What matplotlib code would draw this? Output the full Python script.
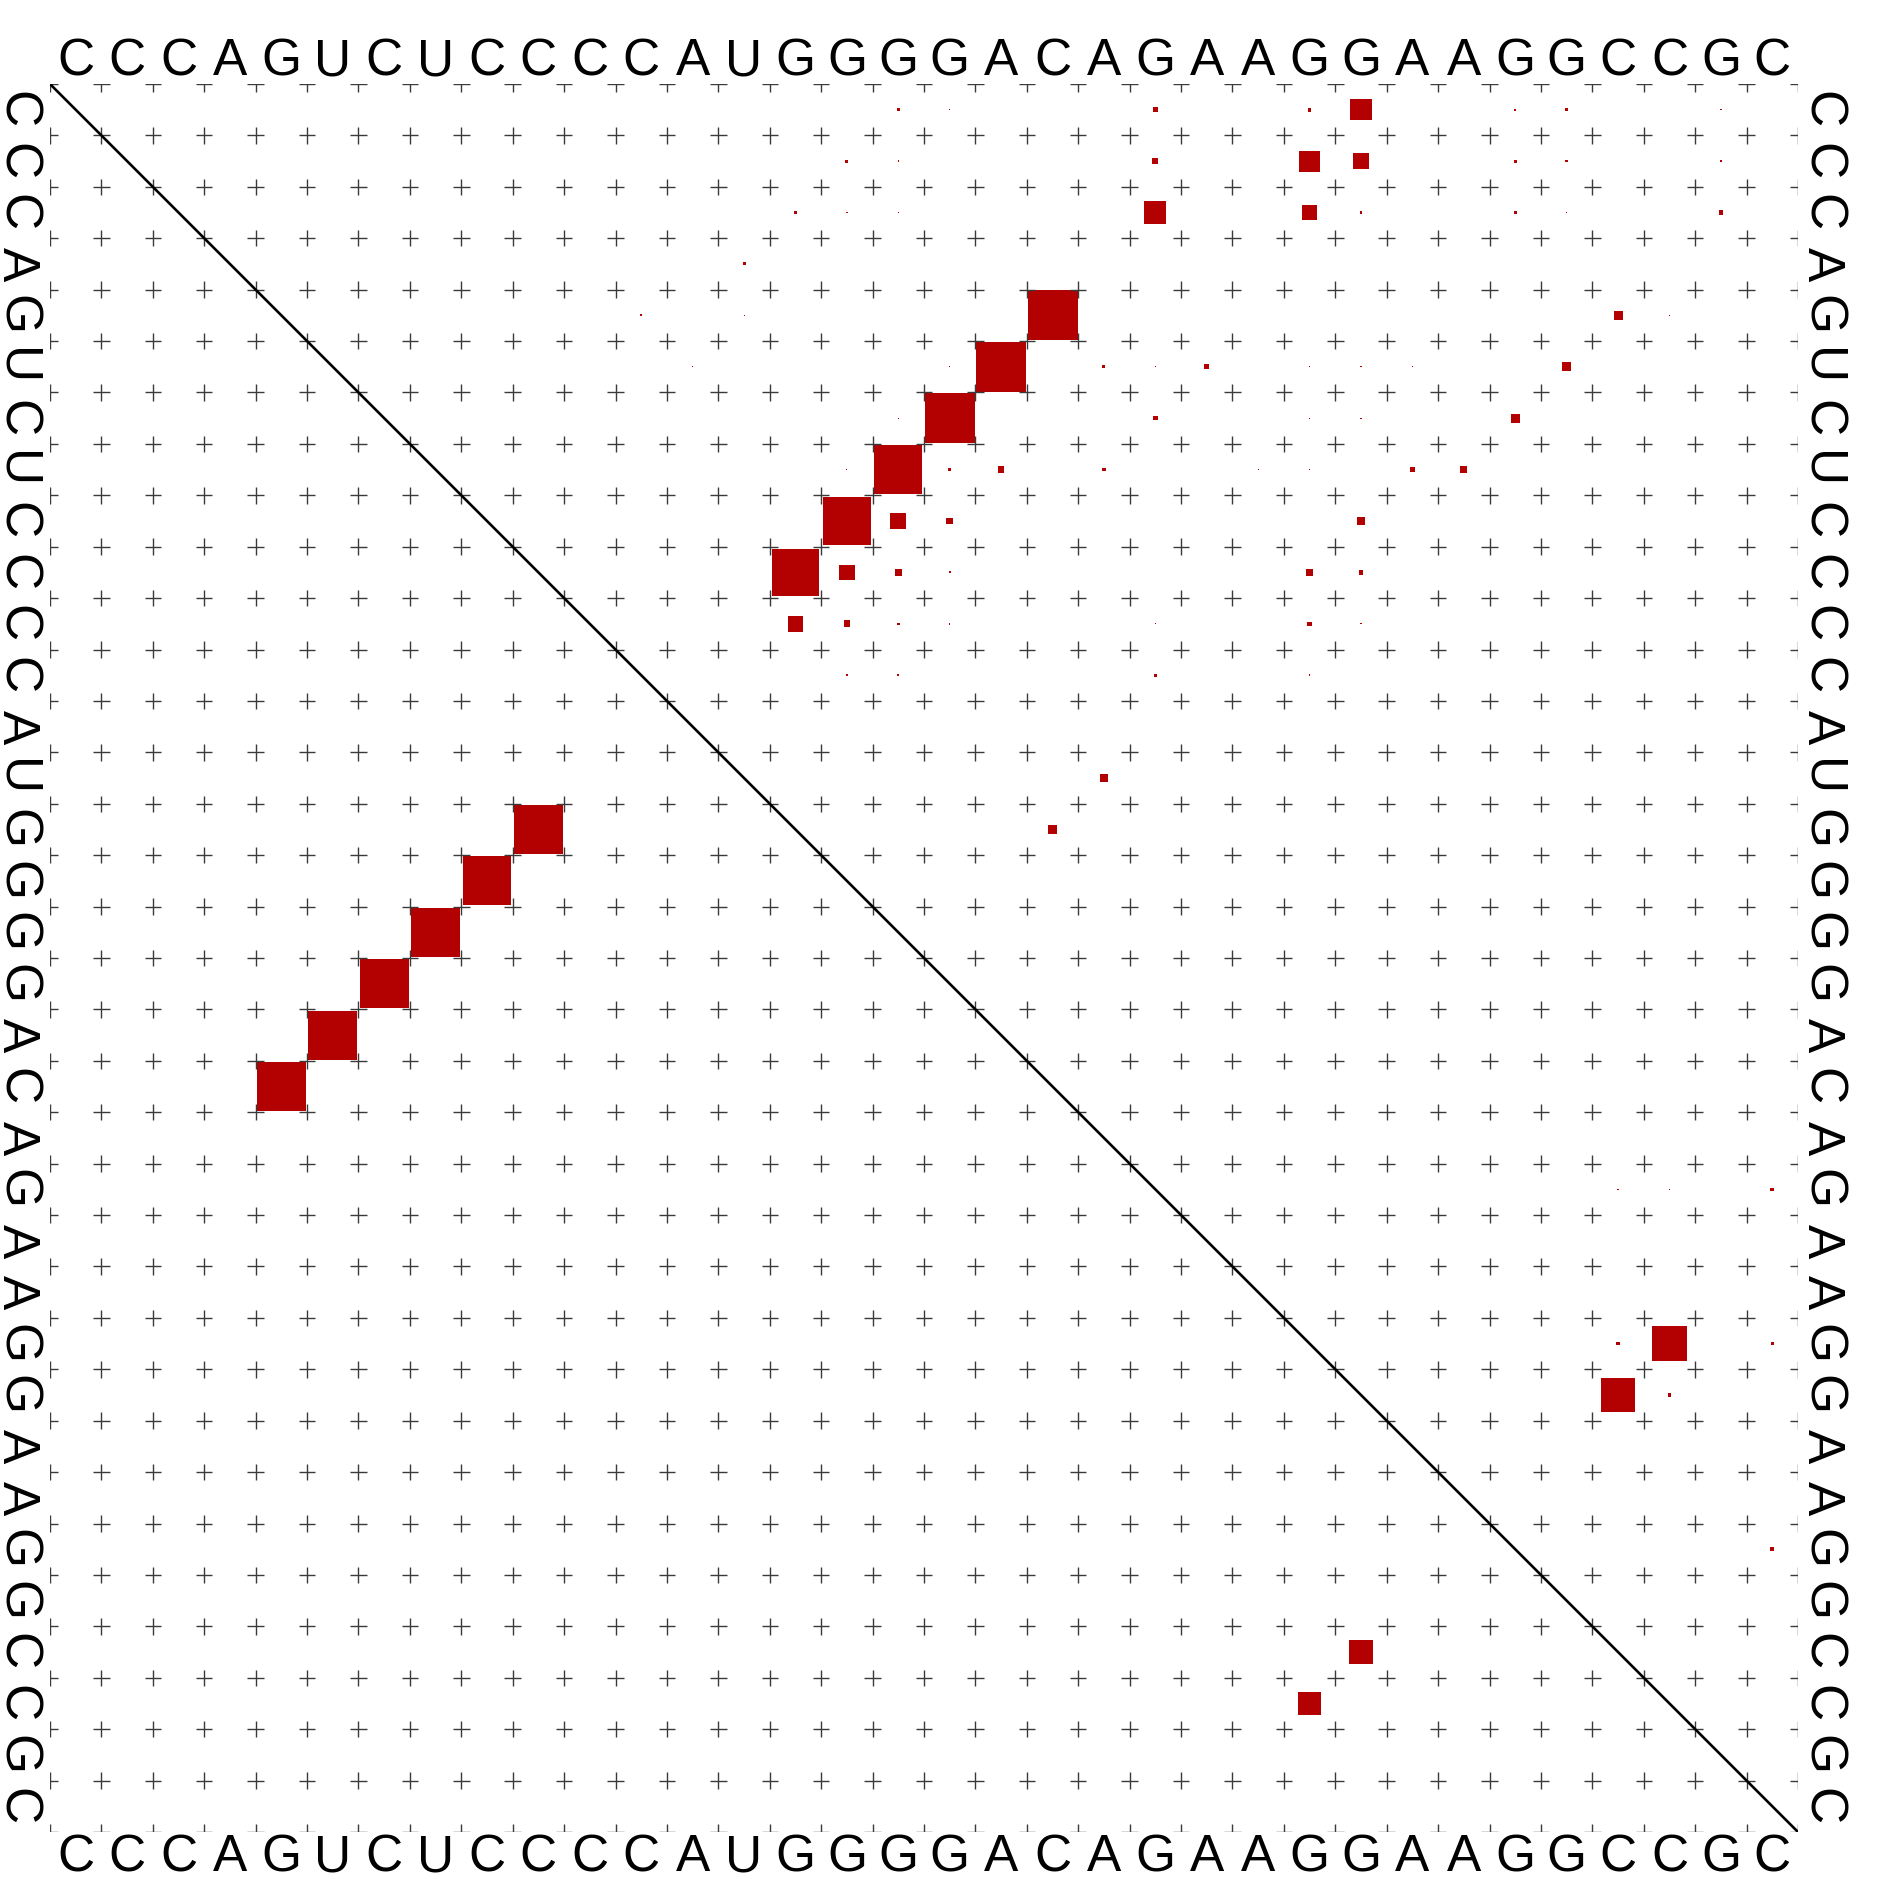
import numpy as np
import matplotlib
matplotlib.use('Agg')
import matplotlib.pyplot as plt
from matplotlib.patches import Rectangle
from matplotlib.collections import LineCollection
import matplotlib.transforms as mtransforms

seq = "CCCAGUCUCCCCAUGGGGACAGAAGGAAGGCCGC"

# upper triangle: pair (i, j) and box side as fraction of a cell (sqrt of prob)
up_i = [1, 1, 1, 1, 1, 1, 1, 1,
        2, 2, 2, 2, 2, 2, 2, 2, 2,
        3, 3, 3, 3, 3, 3, 3, 3, 3,
        4,
        5, 5, 5, 5, 5, 5, 5,
        6, 6, 6, 6, 6, 6, 6, 6, 6, 6, 6, 6, 6, 6,
        7, 7, 7, 7, 7, 7, 7, 7, 7,
        8, 8, 8, 8, 8, 8, 8, 8, 8, 8, 8, 8,
        9, 9, 9, 9, 9, 9, 9, 9,
        10, 10, 10, 10, 10, 10, 10, 10,
        11, 11, 11, 11, 11, 11, 11,
        12, 12, 12, 12, 12,
        14, 14, 14, 14, 14,
        15, 15,
        16,
        22, 22, 22,
        25, 25, 25,
        26, 26, 26,
        29]
up_j = [17, 18, 22, 25, 26, 29, 30, 33,
        16, 17, 18, 22, 25, 26, 29, 30, 33,
        15, 16, 17, 22, 25, 26, 29, 30, 33,
        14,
        11, 12, 14, 20, 31, 32, 34,
        13, 18, 19, 21, 22, 23, 24, 25, 26, 27, 28, 29, 30, 33,
        15, 17, 18, 22, 25, 26, 29, 30, 33,
        16, 17, 18, 19, 21, 23, 24, 25, 26, 27, 28, 29,
        15, 16, 17, 18, 22, 25, 26, 30,
        15, 16, 17, 18, 22, 25, 26, 29,
        15, 16, 17, 18, 22, 25, 26,
        16, 17, 18, 22, 25,
        19, 21, 22, 23, 24,
        20, 34,
        20,
        31, 32, 34,
        31, 32, 34,
        31, 32, 34,
        34]
up_s = [0.065, 0.025, 0.09, 0.07, 0.41, 0.04, 0.06, 0.025,
        0.06, 0.03, 0.01, 0.12, 0.41, 0.305, 0.055, 0.05, 0.03,
        0.06, 0.025, 0.01, 0.43, 0.30, 0.05, 0.065, 0.015, 0.09,
        0.06,
        0.01, 0.04, 0.02, 0.973, 0.175, 0.02, 0.005,
        0.02, 0.02, 0.973, 0.06, 0.025, 0.09, 0.01, 0.02, 0.025, 0.02, 0.01, 0.01, 0.17, 0.01,
        0.005, 0.02, 0.977, 0.09, 0.025, 0.02, 0.175, 0.005, 0.005,
        0.02, 0.94, 0.05, 0.13, 0.065, 0.01, 0.02, 0.02, 0.005, 0.105, 0.14, 0.005,
        0.01, 0.928, 0.305, 0.13, 0.015, 0.015, 0.145, 0.005,
        0.928, 0.305, 0.13, 0.04, 0.005, 0.15, 0.09, 0.005,
        0.31, 0.13, 0.05, 0.03, 0.015, 0.09, 0.025,
        0.045, 0.04, 0.01, 0.05, 0.03,
        0.005, 0.155, 0.01, 0.015, 0.005,
        0.17, 0.005,
        0.005,
        0.025, 0.02, 0.07,
        0.07, 0.68, 0.06,
        0.675, 0.07, 0.015,
        0.07]

# lower triangle pairs
lo_i = [5, 6, 7, 8, 9, 10, 25, 26]
lo_j = [20, 19, 18, 17, 16, 15, 32, 31]
lo_s = [0.95, 0.95, 0.95, 0.95, 0.95, 0.95, 0.45, 0.45]

n = len(seq)
W, H = 1883, 1879
fig = plt.figure(figsize=(W / 100, H / 100), dpi=100)
ax = fig.add_axes([50 / W, (H - 1832) / H, 1748 / W, 1748 / H])
ax.set_xlim(0, n)
ax.set_ylim(n, 0)
ax.axis('off')

red = '#b30000'

# grid crosses
arm = 0.16
segs = []
for a in range(n + 1):
    for b in range(n + 1):
        segs.append([(a - arm, b), (a + arm, b)])
        segs.append([(a, b - arm), (a, b + arm)])
lc = LineCollection(segs, colors='#3a3a3a', linewidths=1.0, clip_on=True)
ax.add_collection(lc)

# diagonal
ax.plot([0, n], [0, n], color='black', lw=1.9, solid_capstyle='butt')

# boxes
for i, j, s in zip(up_i, up_j, up_s):
    ax.add_patch(Rectangle((j - 0.5 - s / 2, i - 0.5 - s / 2), s, s,
                           facecolor=red, edgecolor='none', lw=0))
for i, j, s in zip(lo_i, lo_j, lo_s):
    ax.add_patch(Rectangle((i - 0.5 - s / 2, j - 0.5 - s / 2), s, s,
                           facecolor=red, edgecolor='none', lw=0))

# sequence labels, both side columns turned the same way
fs = 37
fam = ['Liberation Sans', 'DejaVu Sans']
px = 72 / 100  # points per pixel
for k, ch in enumerate(seq):
    c = k + 0.5
    # top
    tr = mtransforms.offset_copy(ax.get_xaxis_transform(), fig=fig, x=0, y=9 * px, units='points')
    ax.text(c, 1, ch, transform=tr, ha='center', va='baseline', fontsize=fs, family=fam)
    # bottom
    tr = mtransforms.offset_copy(ax.get_xaxis_transform(), fig=fig, x=0, y=-39 * px, units='points')
    ax.text(c, 0, ch, transform=tr, ha='center', va='baseline', fontsize=fs, family=fam)
    # left
    tr = mtransforms.offset_copy(ax.get_yaxis_transform(), fig=fig, x=-47 * px, y=0, units='points')
    ax.text(0, c, ch, transform=tr, ha='center', va='baseline', rotation=-90,
            rotation_mode='anchor', fontsize=fs, family=fam)
    # right
    tr = mtransforms.offset_copy(ax.get_yaxis_transform(), fig=fig, x=10 * px, y=0, units='points')
    ax.text(1, c, ch, transform=tr, ha='center', va='baseline', rotation=-90,
            rotation_mode='anchor', fontsize=fs, family=fam)

fig.savefig('out.png', dpi=100, facecolor='white')
